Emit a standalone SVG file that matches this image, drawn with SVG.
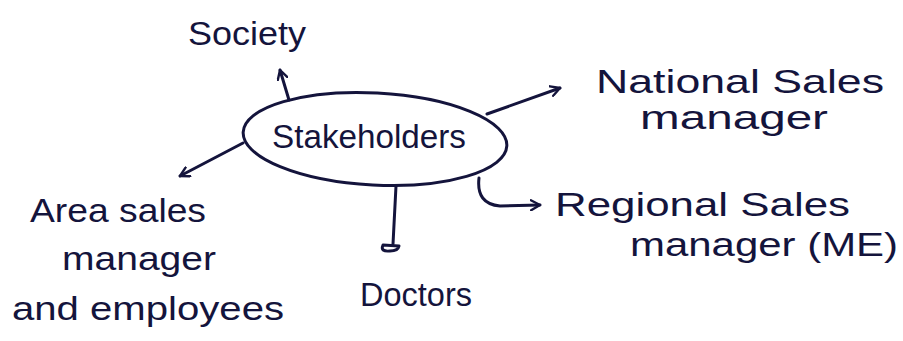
<svg xmlns="http://www.w3.org/2000/svg" width="903" height="341" viewBox="0 0 903 341">
  <defs>
    <style>
      .ink { fill: none; stroke: #14143c; stroke-width: 3; stroke-linecap: round; stroke-linejoin: round; }
      .lbl { font-family: "Liberation Sans", "DejaVu Sans", sans-serif; font-size: 34px; fill: #14143c; }
    </style>
    <marker id="head" viewBox="0 0 12 12" refX="10" refY="6" markerWidth="12" markerHeight="12" markerUnits="userSpaceOnUse" orient="auto">
      <path d="M1,1 L10,6 L1,11" fill="none" stroke="#14143c" stroke-width="2.4" stroke-linecap="round" stroke-linejoin="round"/>
    </marker>
  </defs>
  <rect width="903" height="341" fill="#ffffff"/>

  <!-- connectors -->
  <g id="connectors">
    <path class="ink" d="M289,100 L280,70" marker-end="url(#head)"/>
    <path class="ink" d="M487,114 L560,88" marker-end="url(#head)"/>
    <path class="ink" d="M243,143 L180,176" marker-end="url(#head)"/>
    <path class="ink" d="M396,186 L393,244"/>
    <path class="ink" d="M383,245 Q380,252 390,251 Q398,251 399,246 Z"/>
    <path class="ink" d="M479,178 Q476,204 500,206 L540,205" marker-end="url(#head)"/>
  </g>

  <!-- central node -->
  <g id="stakeholders">
    <ellipse class="ink" cx="375" cy="139" rx="132" ry="46" transform="rotate(3 375 139)"/>
    <text class="lbl" x="272" y="148" textLength="194" lengthAdjust="spacingAndGlyphs">Stakeholders</text>
  </g>

  <g id="society">
    <text class="lbl" x="188" y="45" textLength="118" lengthAdjust="spacingAndGlyphs">Society</text>
  </g>

  <g id="national-sales-manager">
    <text class="lbl" x="596" y="93" textLength="288" lengthAdjust="spacingAndGlyphs">National Sales</text>
    <text class="lbl" x="640" y="129" textLength="188" lengthAdjust="spacingAndGlyphs">manager</text>
  </g>

  <g id="area-sales-manager">
    <text class="lbl" x="30" y="222" textLength="176" lengthAdjust="spacingAndGlyphs">Area sales</text>
    <text class="lbl" x="62" y="270" textLength="154" lengthAdjust="spacingAndGlyphs">manager</text>
    <text class="lbl" x="12" y="320" textLength="272" lengthAdjust="spacingAndGlyphs">and employees</text>
  </g>

  <g id="doctors">
    <text class="lbl" x="360" y="306" textLength="112" lengthAdjust="spacingAndGlyphs">Doctors</text>
  </g>

  <g id="regional-sales-manager">
    <text class="lbl" x="555" y="216" textLength="295" lengthAdjust="spacingAndGlyphs">Regional Sales</text>
    <text class="lbl" x="630" y="256" textLength="268" lengthAdjust="spacingAndGlyphs">manager (ME)</text>
  </g>
</svg>
